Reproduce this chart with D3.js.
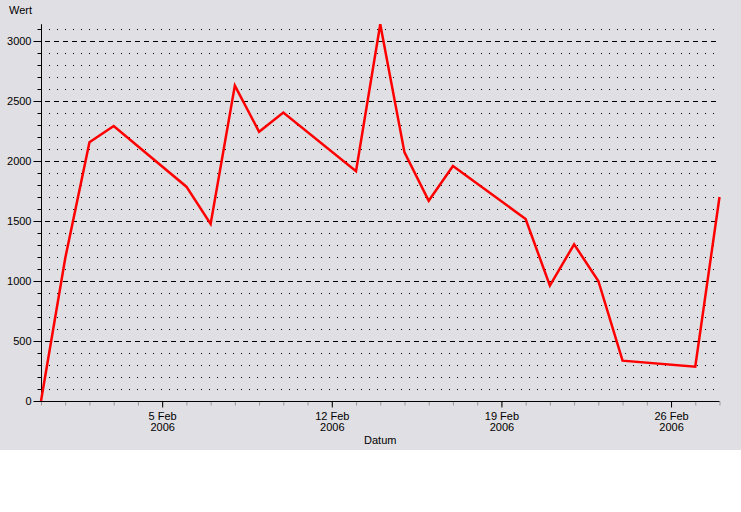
<!DOCTYPE html>
<html>
<head>
<meta charset="utf-8">
<style>
body { margin: 0; background: #fff; }
svg { display: block; font-family: "Liberation Sans", Arial, sans-serif; font-size: 11px; }
</style>
</head>
<body>
<svg id="chart"></svg>
<script src="https://cdnjs.cloudflare.com/ajax/libs/d3/7.8.5/d3.min.js"></script>
<script>
// data
var dates = ["2006-01-31", "2006-02-01", "2006-02-02", "2006-02-03", "2006-02-06", "2006-02-07",
  "2006-02-08", "2006-02-09", "2006-02-10", "2006-02-13", "2006-02-14", "2006-02-15",
  "2006-02-16", "2006-02-17", "2006-02-20", "2006-02-21", "2006-02-22", "2006-02-23",
  "2006-02-24", "2006-02-27", "2006-02-28"];
var values = [0, 1190, 2156, 2292, 1786, 1475,
  2628, 2244, 2403, 1915, 3140, 2072,
  1669, 1958, 1517, 961, 1306, 1000,
  336, 286, 1700];
var yTicks = [0, 500, 1000, 1500, 2000, 2500, 3000];
var xTickDates = ["2006-02-05", "2006-02-12", "2006-02-19", "2006-02-26"];
var xLabel = "Datum";
var yLabel = "Wert";

var width = 741, height = 512;
var plotLeft = 41, plotRight = 719.5, plotTop = 24.2, plotBottom = 401;

var parse = d3.utcParse("%Y-%m-%d");
var data = dates.map(function(d, i) {
  return { date: parse(d), value: values[i] };
});

var svg = d3.select('#chart')
  .attr('width', width)
  .attr('height', height);

svg.append('rect')
  .attr('width', width)
  .attr('height', 450)
  .attr('fill', '#e0dfe3');

var xScale = d3.scaleUtc()
  .domain([parse("2006-01-31"), parse("2006-02-28")])
  .range([plotLeft, plotRight]);

var yScale = d3.scaleLinear()
  .domain([0, d3.max(values)])
  .range([plotBottom, plotTop]);

// horizontal grid: dotted every 100, dashed every 500
var minor = d3.range(100, d3.max(values), 100).filter(function(v) { return v % 500 != 0; });
svg.append('g').selectAll('line')
  .data(minor)
  .enter().append('line')
  .attr('x1', 49).attr('x2', plotRight - 5)
  .attr('y1', function(d) { return Math.round(yScale(d)) + 0.5; })
  .attr('y2', function(d) { return Math.round(yScale(d)) + 0.5; })
  .attr('stroke', '#000')
  .attr('stroke-dasharray', '1,7');

svg.append('g').selectAll('line')
  .data(yTicks.filter(function(d) { return d > 0; }))
  .enter().append('line')
  .attr('x1', 45).attr('x2', plotRight - 2)
  .attr('y1', function(d) { return Math.round(yScale(d)) + 0.5; })
  .attr('y2', function(d) { return Math.round(yScale(d)) + 0.5; })
  .attr('stroke', '#000')
  .attr('stroke-dasharray', '5,4');

// y axis
var yAxis = svg.append('g')
  .attr('transform', 'translate(' + (plotLeft + 0.5) + ',0)');
yAxis.call(d3.axisLeft(yScale).tickValues(d3.range(0, d3.max(values), 100)).tickSize(4).tickFormat(''));
yAxis.call(function(g) {
  g.select('.domain').remove();
  g.selectAll('.tick line').attr('stroke', '#000');
});
var yMajor = svg.append('g')
  .attr('transform', 'translate(' + (plotLeft + 0.5) + ',0)');
yMajor.call(d3.axisLeft(yScale).tickValues(yTicks).tickSize(8).tickPadding(2).tickFormat(d3.format('d')));
yMajor.call(function(g) {
  g.select('.domain').remove();
  g.selectAll('.tick line').attr('stroke', '#000');
  g.selectAll('text').attr('font-size', 11).attr('font-family', '"Liberation Sans", Arial, sans-serif').attr('fill', '#000');
});
svg.append('line')
  .attr('x1', plotLeft + 0.5).attr('x2', plotLeft + 0.5)
  .attr('y1', plotTop).attr('y2', plotBottom)
  .attr('stroke', '#000');

// x axis
var xMinor = svg.append('g')
  .attr('transform', 'translate(0,' + (plotBottom + 0.5) + ')');
xMinor.call(d3.axisBottom(xScale).ticks(d3.utcDay.every(1)).tickSize(4).tickFormat(''));
xMinor.call(function(g) {
  g.select('.domain').remove();
  g.selectAll('.tick line').attr('stroke', '#999');
});

var fmtDay = d3.utcFormat('%-d %b'), fmtYear = d3.utcFormat('%Y');
var xMajor = svg.append('g')
  .attr('transform', 'translate(0,' + (plotBottom + 0.5) + ')');
xMajor.call(d3.axisBottom(xScale).tickValues(xTickDates.map(parse)).tickSize(6).tickFormat(''));
xMajor.call(function(g) {
  g.select('.domain').remove();
  g.selectAll('.tick line').attr('stroke', '#000');
  var t = g.selectAll('.tick').append('text')
    .attr('fill', '#000')
    .attr('text-anchor', 'middle')
    .attr('font-size', 11)
    .attr('font-family', '"Liberation Sans", Arial, sans-serif');
  t.append('tspan').attr('x', 0).attr('y', 18).text(function(d) { return fmtDay(d); });
  t.append('tspan').attr('x', 0).attr('y', 29).text(function(d) { return fmtYear(d); });
});
svg.append('line')
  .attr('x1', plotLeft).attr('x2', plotRight)
  .attr('y1', plotBottom + 0.5).attr('y2', plotBottom + 0.5)
  .attr('stroke', '#000');

// labels
svg.append('text')
  .attr('x', (plotLeft + plotRight) / 2)
  .attr('y', 444)
  .attr('text-anchor', 'middle')
  .text(xLabel);
svg.append('text')
  .attr('x', 9)
  .attr('y', 14)
  .text(yLabel);

// the line
var line = d3.line()
  .x(function(d) { return xScale(d.date); })
  .y(function(d) { return yScale(d.value); });

svg.append('path')
  .datum(data)
  .attr('fill', 'none')
  .attr('stroke', '#ff0000')
  .attr('stroke-width', 2.5)
  .attr('stroke-linejoin', 'miter')
  .attr('d', line);
</script>
</body>
</html>
